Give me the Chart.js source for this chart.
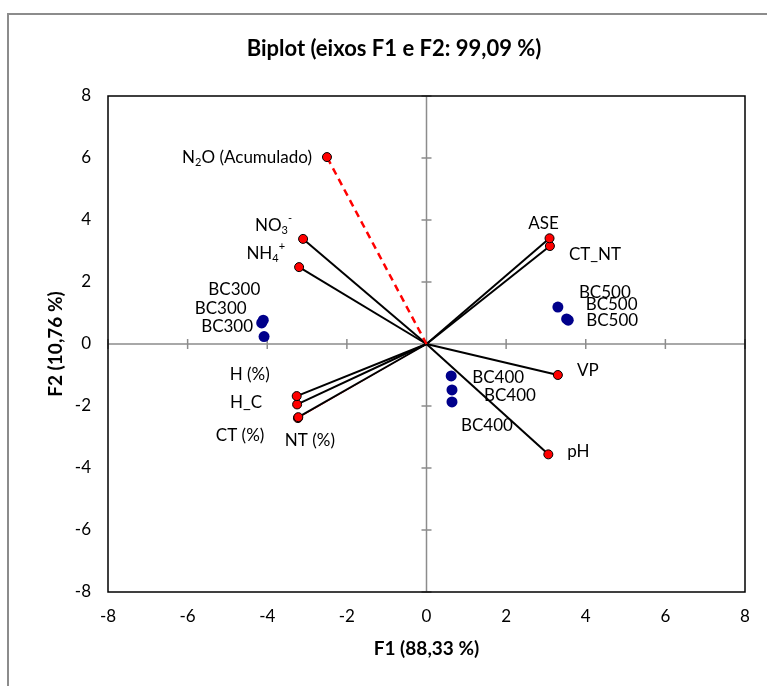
<!DOCTYPE html>
<html>
<head>
<meta charset="utf-8">
<script src="https://cdn.jsdelivr.net/npm/chart.js@4.4.0/dist/chart.umd.min.js"></script>
<style>
  body { margin: 0; background: #fff; }
  #wrap { width: 767px; height: 686px; }
</style>
</head>
<body>
<div id="wrap"><canvas id="biplot" width="767" height="686"></canvas></div>
<script>
// variables (vectors)
const varNames = ['N_{2}O (Acumulado)', 'NO_{3}^{-}', 'NH_{4}^{+}', 'ASE', 'CT_NT', 'VP', 'pH', 'H (%)', 'H_C', 'CT (%)', 'NT (%)'];
const varF1 = [-2.50, -3.10, -3.20, 3.09, 3.10, 3.30, 3.06, -3.26, -3.25, -3.22, -3.23];
const varF2 = [6.03, 3.39, 2.48, 3.41, 3.16, -1.00, -3.56, -1.68, -1.95, -2.36, -2.39];

// observations
const obsNames = ['BC300', 'BC300', 'BC300', 'BC400', 'BC400', 'BC400', 'BC500', 'BC500', 'BC500'];
const obsF1 = [-4.10, -4.14, -4.08, 0.62, 0.64, 0.64, 3.30, 3.52, 3.56];
const obsF2 = [0.77, 0.68, 0.24, -1.03, -1.48, -1.87, 1.19, 0.81, 0.77];

const axisTicks = [-8, -6, -4, -2, 0, 2, 4, 6, 8];

const chartTitle = 'Biplot (eixos F1 e F2: 99,09 %)';
const xTitle = 'F1 (88,33 %)';
const yTitle = 'F2 (10,76 %)';

// label placement, pixel offset from the point: [dx, dy, align]
const varLabelPos = [
  [-15, 0, 'right'], [-11, -13, 'right'], [-14, -14, 'right'], [-6, -15, 'center'],
  [19, 8, 'left'], [19, -4, 'left'], [19, -3, 'left'], [-27, -22, 'right'],
  [-35, -2, 'right'], [-34, 18, 'right'], [12, 22, 'center']
];
const obsLabelPos = [
  [-3, -31, 'right'], [-15, -14, 'right'], [-11, -10, 'right'],
  [21, 2, 'left'], [32, 6, 'left'], [9, 24, 'left'],
  [21, -15, 'left'], [19, -14, 'left'], [18, 0, 'left']
];

const FONT = 'Lato, "Open Sans", sans-serif';
const LABEL_SIZE = 17;

// "_{..}" = subscript, "^{..}" = superscript, anything else is plain text
function parseRich(str) {
  const out = [];
  const re = /([_^])\{([^}]*)\}|([^_^]+|[_^])/g;
  let m;
  while ((m = re.exec(str)) !== null) {
    if (m[3] !== undefined) out.push({ t: m[3], mode: 0 });
    else out.push({ t: m[2], mode: m[1] === '_' ? -1 : 1 });
  }
  return out;
}

function drawRich(ctx, str, x, y, align, size) {
  const segs = parseRich(str);
  const small = Math.round(size * 0.65);
  let w = 0;
  segs.forEach(s => {
    ctx.font = (s.mode ? small : size) + 'px ' + FONT;
    s.w = ctx.measureText(s.t).width;
    w += s.w;
  });
  let cx = align === 'right' ? x - w : align === 'center' ? x - w / 2 : x;
  ctx.textAlign = 'left';
  ctx.textBaseline = 'middle';
  segs.forEach(s => {
    ctx.font = (s.mode ? small : size) + 'px ' + FONT;
    const dy = s.mode === -1 ? 5 : s.mode === 1 ? -7 : 0;
    ctx.fillText(s.t, cx, y + dy);
    cx += s.w;
  });
}

const decor = {
  id: 'decor',
  beforeDatasetsDraw(chart) {
    const { ctx, chartArea: a, scales: { x, y } } = chart;
    const x0 = x.getPixelForValue(0), y0 = y.getPixelForValue(0);
    ctx.save();
    ctx.strokeStyle = '#8c8c8c';
    ctx.lineWidth = 1.5;
    ctx.beginPath();
    ctx.moveTo(a.left, y0); ctx.lineTo(a.right, y0);
    ctx.moveTo(x0, a.top); ctx.lineTo(x0, a.bottom);
    axisTicks.forEach(v => {
      const px = x.getPixelForValue(v), py = y.getPixelForValue(v);
      ctx.moveTo(px, y0 - 5); ctx.lineTo(px, y0 + 5);
      ctx.moveTo(x0 - 5, py); ctx.lineTo(x0 + 5, py);
    });
    ctx.stroke();
    ctx.restore();
  },
  afterDatasetsDraw(chart) {
    const { ctx, chartArea: a, scales: { x, y } } = chart;
    ctx.save();
    // outer frame
    ctx.strokeStyle = '#8c8c8c';
    ctx.lineWidth = 2;
    ctx.strokeRect(8, 14, 800, 700);
    // plot border
    ctx.strokeStyle = '#000';
    ctx.lineWidth = 1.5;
    ctx.strokeRect(a.left, a.top, a.right - a.left, a.bottom - a.top);

    ctx.fillStyle = '#000';
    // tick labels
    ctx.font = '17px ' + FONT;
    ctx.textBaseline = 'middle';
    axisTicks.forEach(v => {
      ctx.textAlign = 'right';
      ctx.fillText(String(v), a.left - 17, y.getPixelForValue(v));
      ctx.textAlign = 'center';
      ctx.fillText(String(v), x.getPixelForValue(v), a.bottom + 25);
    });

    // titles
    ctx.font = 'bold 22px ' + FONT;
    ctx.textAlign = 'center';
    ctx.fillText(chartTitle, 394, 49);
    ctx.font = 'bold 19px ' + FONT;
    ctx.fillText(xTitle, (a.left + a.right) / 2, a.bottom + 57);
    ctx.save();
    ctx.translate(56, (a.top + a.bottom) / 2);
    ctx.rotate(-Math.PI / 2);
    ctx.fillText(yTitle, 0, 0);
    ctx.restore();

    // point labels
    varNames.forEach((name, i) => {
      const p = chart.getDatasetMeta(i).data[1];
      const [dx, dy, al] = varLabelPos[i];
      drawRich(ctx, name, p.x + dx, p.y + dy, al, LABEL_SIZE);
    });
    const obsMeta = chart.getDatasetMeta(varNames.length);
    obsNames.forEach((name, i) => {
      const p = obsMeta.data[i];
      const [dx, dy, al] = obsLabelPos[i];
      drawRich(ctx, name, p.x + dx, p.y + dy, al, LABEL_SIZE);
    });
    ctx.restore();
  }
};

const datasets = varNames.map((name, i) => ({
  label: name,
  data: [{ x: 0, y: 0 }, { x: varF1[i], y: varF2[i] }],
  showLine: true,
  borderColor: i === 0 || i === varNames.length - 1 ? '#ff0000' : '#000000',
  borderWidth: i === 0 ? 2.5 : i === varNames.length - 1 ? 1 : 2,
  borderDash: i === 0 ? [7, 5] : [],
  pointRadius: [0, 4.5],
  pointBackgroundColor: '#ff0000',
  pointBorderColor: '#000000',
  pointBorderWidth: 1,
  order: i === varNames.length - 1 ? 20 : 10
}));
datasets.push({
  label: 'Observações',
  data: obsF1.map((v, i) => ({ x: v, y: obsF2[i] })),
  showLine: false,
  pointRadius: 5.5,
  pointBackgroundColor: '#00008b',
  pointBorderColor: '#00008b',
  pointBorderWidth: 0,
  order: 5
});

new Chart(document.getElementById('biplot').getContext('2d'), {
  type: 'scatter',
  data: { datasets },
  options: {
    responsive: false,
    animation: false,
    layout: { padding: { left: 108, top: 96, right: 22, bottom: 94 } },
    scales: {
      x: { display: false, min: -8, max: 8 },
      y: { display: false, min: -8, max: 8 }
    },
    plugins: {
      legend: { display: false },
      tooltip: { enabled: false }
    }
  },
  plugins: [decor]
});
</script>
</body>
</html>
